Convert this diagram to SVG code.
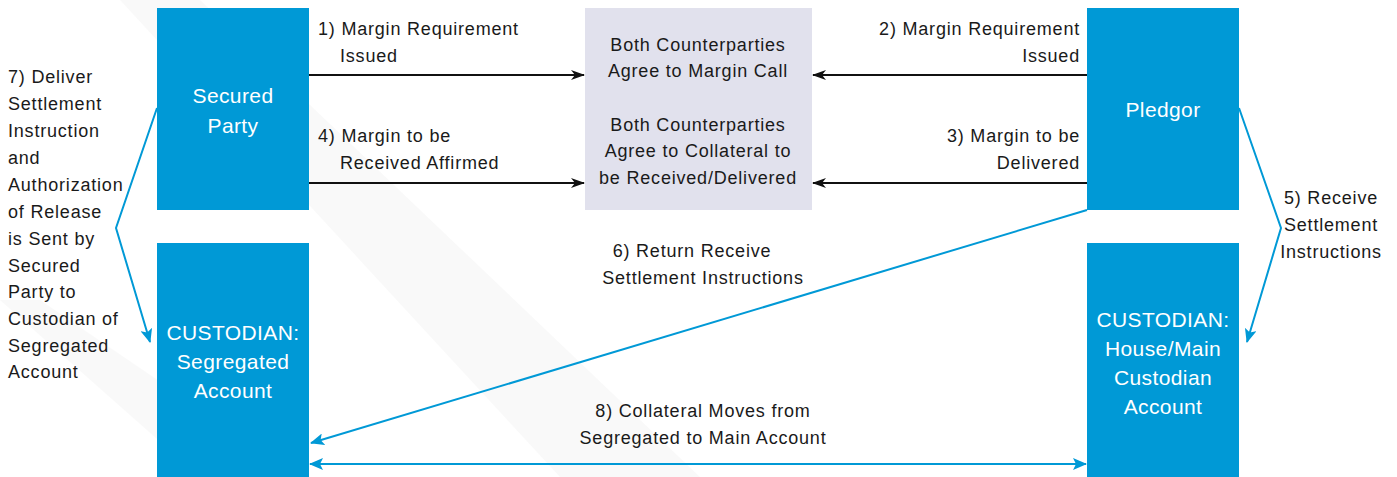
<svg xmlns="http://www.w3.org/2000/svg" width="1397" height="477" viewBox="0 0 1397 477">
<style>
.box{fill:#0099d6}
.mid{fill:#e1e1ed}
.bt{font-family:"Liberation Sans",Arial,sans-serif;font-size:21px;letter-spacing:0.4px;fill:#ffffff;text-anchor:middle}
.t{font-family:"Liberation Sans",Arial,sans-serif;font-size:18px;letter-spacing:0.8px;fill:#1a1a1a}
.c{text-anchor:middle}
.r{text-anchor:end}
.k{stroke:#111;stroke-width:2;fill:none}
.b{stroke:#0099d6;stroke-width:2;fill:none}
</style>
<defs>
<marker id="ak" viewBox="0 0 14 10" refX="13" refY="5" markerWidth="14" markerHeight="10" markerUnits="userSpaceOnUse" orient="auto">
<path d="M0,0 L14,5 L0,10 L4,5 Z" fill="#111"/>
</marker>
<marker id="ab" viewBox="0 0 14 12" refX="13" refY="6" markerWidth="14" markerHeight="12" markerUnits="userSpaceOnUse" orient="auto-start-reverse">
<path d="M0,0 L14,6 L0,12 L3,6 Z" fill="#0099d6"/>
</marker>
</defs>
<rect width="1397" height="477" fill="#ffffff"/>
<g id="bg" opacity="0.35">
<polygon points="120,0 200,0 700,477 560,477" fill="#eeeeee"/>
<polygon points="0,300 40,300 300,477 200,477" fill="#f0f0f0"/>
</g>
<g id="secured-party">
<rect class="box" x="157" y="8" width="152" height="202"/>
<text class="bt" x="233" y="103">Secured</text>
<text class="bt" x="233" y="133">Party</text>
</g>
<g id="pledgor">
<rect class="box" x="1087" y="8" width="152" height="202"/>
<text class="bt" x="1163" y="117">Pledgor</text>
</g>
<g id="custodian-seg">
<rect class="box" x="157" y="243" width="152" height="234"/>
<text class="bt" x="233" y="340">CUSTODIAN:</text>
<text class="bt" x="233" y="369">Segregated</text>
<text class="bt" x="233" y="398">Account</text>
</g>
<g id="custodian-house">
<rect class="box" x="1087" y="243" width="152" height="234"/>
<text class="bt" x="1163" y="327">CUSTODIAN:</text>
<text class="bt" x="1163" y="356">House/Main</text>
<text class="bt" x="1163" y="385">Custodian</text>
<text class="bt" x="1163" y="414">Account</text>
</g>
<g id="agreement">
<rect class="mid" x="585" y="8" width="227" height="202"/>
<text class="t c" x="698" y="51">Both Counterparties</text>
<text class="t c" x="698" y="77">Agree to Margin Call</text>
<text class="t c" x="698" y="131">Both Counterparties</text>
<text class="t c" x="698" y="157">Agree to Collateral to</text>
<text class="t c" x="698" y="184">be Received/Delivered</text>
</g>
<g id="connectors">
<line class="k" x1="309" y1="75" x2="584" y2="75" marker-end="url(#ak)"/>
<line class="k" x1="309" y1="183" x2="584" y2="183" marker-end="url(#ak)"/>
<line class="k" x1="1087" y1="75" x2="813" y2="75" marker-end="url(#ak)"/>
<line class="k" x1="1087" y1="183" x2="813" y2="183" marker-end="url(#ak)"/>
<polyline class="b" points="157,108 116,228 150,342" marker-end="url(#ab)"/>
<polyline class="b" points="1239,108 1281,228 1247,342" marker-end="url(#ab)"/>
<line class="b" x1="1087" y1="210" x2="311" y2="443" marker-end="url(#ab)"/>
<line class="b" x1="310" y1="464" x2="1086" y2="464" marker-start="url(#ab)" marker-end="url(#ab)"/>
</g>
<g id="labels">
<text class="t" x="318" y="35">1) Margin Requirement</text>
<text class="t" x="340" y="62">Issued</text>
<text class="t" x="318" y="142">4) Margin to be</text>
<text class="t" x="340" y="169">Received Affirmed</text>
<text class="t r" x="1080" y="35">2) Margin Requirement</text>
<text class="t r" x="1080" y="62">Issued</text>
<text class="t r" x="1080" y="142">3) Margin to be</text>
<text class="t r" x="1080" y="169">Delivered</text>
<text class="t c" x="1331" y="204">5) Receive</text>
<text class="t c" x="1331" y="231">Settlement</text>
<text class="t c" x="1331" y="258">Instructions</text>
<text class="t c" x="692" y="257">6) Return Receive</text>
<text class="t c" x="703" y="284">Settlement Instructions</text>
<text class="t c" x="703" y="417">8) Collateral Moves from</text>
<text class="t c" x="703" y="444">Segregated to Main Account</text>
<text class="t" x="8" y="83">7) Deliver</text>
<text class="t" x="8" y="110">Settlement</text>
<text class="t" x="8" y="137">Instruction</text>
<text class="t" x="8" y="164">and</text>
<text class="t" x="8" y="191">Authorization</text>
<text class="t" x="8" y="218">of Release</text>
<text class="t" x="8" y="245">is Sent by</text>
<text class="t" x="8" y="272">Secured</text>
<text class="t" x="8" y="298">Party to</text>
<text class="t" x="8" y="325">Custodian of</text>
<text class="t" x="8" y="352">Segregated</text>
<text class="t" x="8" y="378">Account</text>
</g>
</svg>
